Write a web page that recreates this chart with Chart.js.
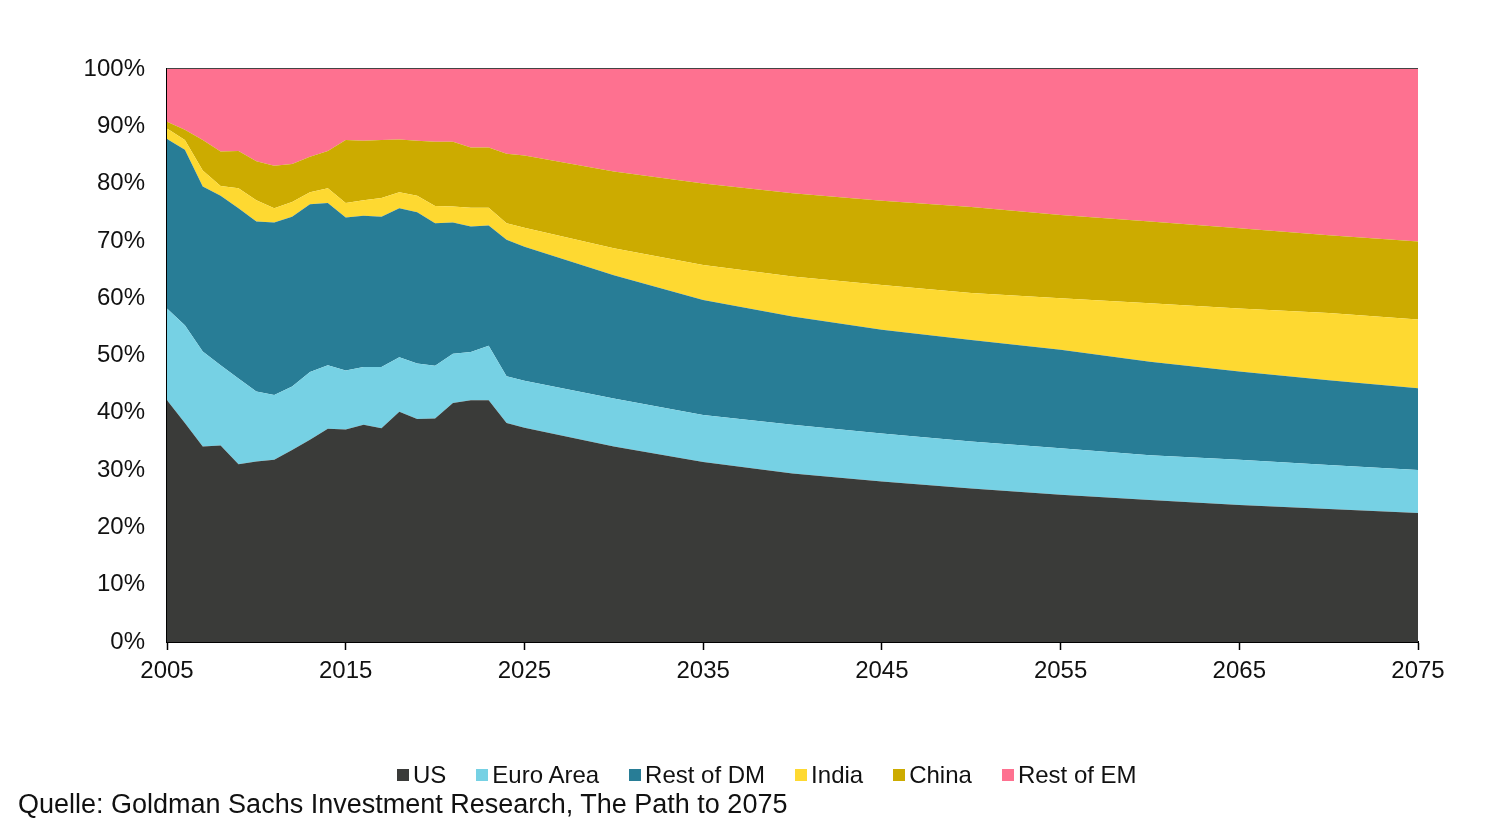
<!DOCTYPE html>
<html>
<head>
<meta charset="utf-8">
<script src="https://cdn.jsdelivr.net/npm/chart.js@4"></script>
<style>
  body { margin: 0; background: #fff; }
  #wrap { position: relative; width: 1500px; height: 836px; font-family: "Liberation Sans", Arial, sans-serif; color: #111; }
  #leyenda {
    position: absolute; left: 397px; top: 761px; height: 28px;
    display: flex; align-items: center; gap: 30px; font-size: 24px; line-height: 28px;
  }
  #leyenda span.item { display: flex; align-items: center; white-space: nowrap; }
  #leyenda i { display: inline-block; width: 12px; height: 12px; margin-right: 4px; }
  #quelle { position: absolute; left: 18px; top: 788px; font-size: 27px; line-height: 32px; }
</style>
</head>
<body>
<div id="wrap">
  <canvas id="myChart" width="1500" height="836"></canvas>
  <div id="leyenda"></div>
  <div id="quelle">Quelle: Goldman Sachs Investment Research, The Path to 2075</div>
</div>
<script>
// years (annual to 2025, then every 5 years)
const years = [2005, 2006, 2007, 2008, 2009, 2010, 2011, 2012, 2013, 2014, 2015,
  2016, 2017, 2018, 2019, 2020, 2021, 2022, 2023, 2024, 2025,
  2030, 2035, 2040, 2045, 2050, 2055, 2060, 2065, 2070, 2075];

// share of world GDP, %
const us = [42.2, 38.2, 34.1, 34.3, 31.0, 31.5, 31.8, 33.5, 35.3, 37.2, 37.1,
  37.9, 37.3, 40.2, 38.9, 39.0, 41.7, 42.2, 42.2, 38.2, 37.4,
  34.1, 31.4, 29.4, 28.0, 26.8, 25.7, 24.8, 23.9, 23.2, 22.5];
const euroArea = [16.0, 17.1, 16.6, 14.0, 15.0, 12.2, 11.3, 11.1, 11.8, 11.1, 10.3,
  10.1, 10.7, 9.5, 9.7, 9.2, 8.6, 8.4, 9.5, 8.2, 8.2,
  8.4, 8.2, 8.5, 8.4, 8.2, 8.1, 7.8, 7.9, 7.7, 7.5];
const restDM = [29.6, 30.6, 28.8, 29.6, 29.7, 29.7, 30.1, 29.6, 29.3, 28.3, 26.7,
  26.4, 26.2, 26.0, 26.4, 24.9, 22.9, 21.9, 21.0, 23.8, 23.4,
  21.5, 20.1, 18.9, 18.1, 17.7, 17.2, 16.3, 15.4, 14.8, 14.3];
const india = [1.8, 1.7, 2.8, 1.7, 3.5, 3.7, 2.5, 2.6, 2.1, 2.6, 2.5,
  2.7, 3.3, 2.8, 2.9, 3.0, 2.8, 3.3, 3.1, 2.9, 3.3,
  4.7, 6.1, 7.0, 7.8, 8.2, 9.0, 10.2, 11.0, 11.7, 12.0];
const china = [1.2, 1.8, 5.3, 6.0, 6.5, 6.8, 7.4, 6.6, 6.2, 6.5, 11.0,
  10.4, 10.1, 9.2, 9.6, 11.2, 11.3, 10.5, 10.5, 12.1, 12.6,
  13.4, 14.2, 14.5, 14.7, 15.0, 14.5, 14.3, 14.0, 13.6, 13.6];
const restEM = [9.2, 10.6, 12.4, 14.4, 14.3, 16.1, 16.9, 16.6, 15.3, 14.3, 12.4,
  12.5, 12.4, 12.3, 12.5, 12.7, 12.7, 13.7, 13.7, 14.8, 15.1,
  17.9, 20.0, 21.7, 23.0, 24.1, 25.5, 26.6, 27.8, 29.0, 30.1];

const xTicks = [2005, 2015, 2025, 2035, 2045, 2055, 2065, 2075];

const serie = (label, valores, color, fill) => ({
  label,
  data: valores.map((v, i) => ({ x: years[i], y: v })),
  backgroundColor: color,
  borderColor: color,
  borderWidth: 0,
  pointRadius: 0,
  tension: 0,
  fill,
});

const fuente = "'Liberation Sans', Arial, sans-serif";
const ctx = document.getElementById("myChart");

const myChart = new Chart(ctx, {
  type: "line",
  data: {
    datasets: [
      serie("US", us, "#3a3b39", "origin"),
      serie("Euro Area", euroArea, "#76d1e4", "-1"),
      serie("Rest of DM", restDM, "#287d96", "-1"),
      serie("India", india, "#fed931", "-1"),
      serie("China", china, "#ccab00", "-1"),
      serie("Rest of EM", restEM, "#fe7190", "-1"),
    ],
  },
  options: {
    responsive: false,
    animation: false,
    layout: { padding: { left: 0, right: 82, top: 69, bottom: 134 } },
    plugins: {
      tooltip: { enabled: false },
      legend: { display: false },
    },
    scales: {
      x: {
        type: "linear",
        min: 2005,
        max: 2075,
        afterBuildTicks: (axis) => { axis.ticks = xTicks.map((v) => ({ value: v })); },
        afterFit: (axis) => { axis.height = 60; },
        border: { display: true, color: "#000", width: 2 },
        grid: { drawOnChartArea: false, tickLength: 8, color: "#000", tickWidth: 1.5 },
        ticks: {
          padding: 7,
          color: "#111",
          font: { family: fuente, size: 24 },
          callback: (v) => String(v),
          maxRotation: 0,
        },
      },
      y: {
        stacked: true,
        min: 0,
        max: 100,
        afterFit: (axis) => { axis.width = 167; },
        border: { display: true, color: "#000", width: 1.5 },
        grid: {
          drawTicks: false,
          color: (c) => (c.tick && c.tick.value === 100 ? "#444" : "rgba(0,0,0,0)"),
          lineWidth: 2,
        },
        ticks: {
          stepSize: 10,
          padding: 22,
          color: "#111",
          font: { family: fuente, size: 24 },
          callback: (v) => v + "%",
        },
      },
    },
  },
});

// leyenda en html, sacada de los datasets
const leyenda = document.getElementById("leyenda");
leyenda.innerHTML = myChart.data.datasets
  .map((d) => `<span class="item"><i style="background:${d.backgroundColor}"></i>${d.label}</span>`)
  .join("");
</script>
</body>
</html>
